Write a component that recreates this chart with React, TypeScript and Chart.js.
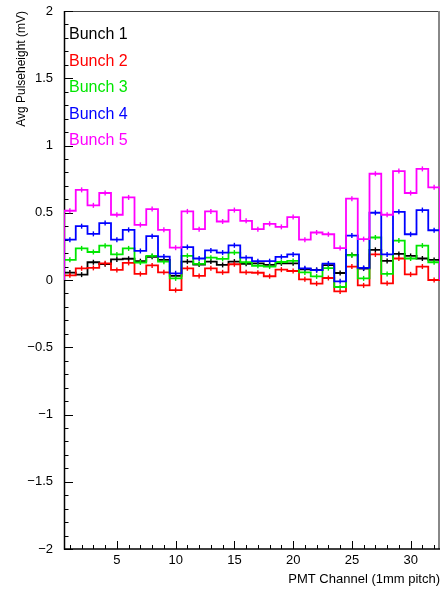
import { useEffect, useRef } from "react";
import { Chart, registerables } from "chart.js";

Chart.register(...registerables);

const channels = [1, 2, 3, 4, 5, 6, 7, 8, 9, 10, 11, 12, 13, 14, 15, 16, 17, 18, 19, 20, 21, 22, 23, 24, 25, 26, 27, 28, 29, 30, 31, 32];

const seriesNames = ["Bunch 1", "Bunch 2", "Bunch 3", "Bunch 4", "Bunch 5"];
const seriesColors = ["#000000", "#ff0000", "#00e600", "#0000ff", "#ff00ff"];

const bunch1 = [0.055, 0.04, 0.132, 0.118, 0.153, 0.158, 0.14, 0.172, 0.15, 0.03, 0.137, 0.115, 0.137, 0.112, 0.137, 0.12, 0.124, 0.112, 0.124, 0.124, 0.08, 0.075, 0.11, 0.052, 0.186, 0.085, 0.224, 0.142, 0.194, 0.179, 0.16, 0.149];
const bunch2 = [0.035, 0.087, 0.09, 0.124, 0.075, 0.127, 0.045, 0.108, 0.057, -0.075, 0.087, 0.03, 0.087, 0.057, 0.117, 0.057, 0.054, 0.028, 0.077, 0.067, 0.005, -0.027, 0.015, -0.085, 0.1, -0.04, 0.19, -0.025, 0.16, 0.042, 0.1, 0.0];
const bunch3 = [0.15, 0.235, 0.208, 0.255, 0.19, 0.235, 0.13, 0.18, 0.136, 0.012, 0.18, 0.12, 0.166, 0.157, 0.204, 0.132, 0.106, 0.1, 0.134, 0.142, 0.056, 0.027, 0.088, -0.052, 0.184, 0.012, 0.316, 0.045, 0.293, 0.16, 0.256, 0.132];
const bunch4 = [0.3, 0.4, 0.343, 0.423, 0.3, 0.373, 0.216, 0.326, 0.174, 0.05, 0.245, 0.16, 0.22, 0.204, 0.258, 0.166, 0.14, 0.14, 0.172, 0.19, 0.087, 0.073, 0.122, -0.01, 0.33, 0.09, 0.5, 0.19, 0.507, 0.34, 0.52, 0.37];
const bunch5 = [0.515, 0.67, 0.555, 0.647, 0.485, 0.614, 0.41, 0.527, 0.373, 0.24, 0.51, 0.378, 0.51, 0.435, 0.52, 0.44, 0.378, 0.418, 0.395, 0.468, 0.3, 0.353, 0.34, 0.237, 0.605, 0.304, 0.79, 0.485, 0.81, 0.647, 0.826, 0.689];

const xTickValues = [5, 10, 15, 20, 25, 30];
const xTickLabels = ["5", "10", "15", "20", "25", "30"];
const yTickValues = [-2, -1.5, -1, -0.5, 0, 0.5, 1, 1.5, 2];
const yTickLabels = ["\u22122", "\u22121.5", "\u22121", "\u22120.5", "0", "0.5", "1", "1.5", "2"];

const FONT = '"Liberation Sans", Arial, Helvetica, sans-serif';

function stepPoints(vals: number[]) {
  const pts: { x: number; y: number }[] = [{ x: channels[0] - 0.5, y: 0 }];
  vals.forEach((v, i) => {
    pts.push({ x: channels[i] - 0.5, y: v });
    pts.push({ x: channels[i] + 0.5, y: v });
  });
  pts.push({ x: channels[channels.length - 1] + 0.5, y: 0 });
  return pts;
}

function centerPoints(vals: number[]) {
  return vals.map((v, i) => ({ x: channels[i], y: v }));
}

const frameTicks = {
  id: "frameTicks",
  beforeDatasetsDraw(chart: any) {
    const { ctx, chartArea: a, scales } = chart;
    const xs = scales.x;
    const ys = scales.y;
    ctx.save();
    ctx.strokeStyle = "#444";
    ctx.lineWidth = 1;
    ctx.beginPath();
    ctx.moveTo(a.left, a.top + 0.5);
    ctx.lineTo(a.right, a.top + 0.5);
    ctx.stroke();
    ctx.strokeStyle = "#888";
    ctx.lineWidth = 2;
    ctx.beginPath();
    ctx.moveTo(a.right - 1, a.top);
    ctx.lineTo(a.right - 1, a.bottom);
    ctx.stroke();
    ctx.strokeStyle = "#000";
    ctx.lineWidth = 1.5;
    ctx.beginPath();
    ctx.moveTo(a.left + 0.5, a.top);
    ctx.lineTo(a.left + 0.5, a.bottom);
    ctx.lineTo(a.right, a.bottom);
    ctx.stroke();
    ctx.lineWidth = 1;
    ctx.beginPath();
    for (let k = -20; k <= 20; k++) {
      const py = Math.round(ys.getPixelForValue(k / 10)) + 0.5;
      const len = k % 5 === 0 ? 9 : 4.5;
      ctx.moveTo(a.left, py);
      ctx.lineTo(a.left + len, py);
    }
    for (let c = channels[0]; c <= channels[channels.length - 1]; c++) {
      const px = Math.round(xs.getPixelForValue(c)) + 0.5;
      const len = c % 5 === 0 ? 8 : 4;
      ctx.moveTo(px, a.bottom);
      ctx.lineTo(px, a.bottom - len);
    }
    ctx.stroke();
    ctx.restore();
  },
};

const textLegend = {
  id: "textLegend",
  afterDatasetsDraw(chart: any) {
    const { ctx, chartArea: a } = chart;
    ctx.save();
    ctx.font = `16px ${FONT}`;
    ctx.textBaseline = "middle";
    ctx.textAlign = "left";
    seriesNames.forEach((name, i) => {
      ctx.fillStyle = seriesColors[i];
      ctx.fillText(name, a.left + 5, a.top + 23.5 + i * 26.6);
    });
    ctx.restore();
  },
};

export default function App() {
  const ref = useRef<HTMLCanvasElement | null>(null);

  useEffect(() => {
    if (!ref.current) return;
    const series = [bunch1, bunch2, bunch3, bunch4, bunch5];
    const datasets: any[] = [];
    for (let s = series.length - 1; s >= 0; s--) {
      datasets.push({
        label: seriesNames[s],
        data: stepPoints(series[s]),
        borderColor: seriesColors[s],
        backgroundColor: seriesColors[s],
        borderWidth: 1.8,
        pointRadius: 0,
        pointHoverRadius: 0,
        tension: 0,
        fill: false,
      });
      datasets.push({
        label: seriesNames[s] + " err",
        data: centerPoints(series[s]),
        showLine: false,
        borderColor: seriesColors[s],
        backgroundColor: seriesColors[s],
        pointStyle: "line",
        rotation: 90,
        pointRadius: 2.5,
        pointHoverRadius: 0,
        pointBorderWidth: 1.4,
        pointBorderColor: seriesColors[s],
      });
    }
    const chart = new Chart(ref.current, {
      type: "line",
      data: { datasets },
      options: {
        animation: false,
        responsive: false,
        events: [],
        layout: { autoPadding: false, padding: { top: 11, right: 1, left: 0, bottom: 0 } },
        plugins: { legend: { display: false }, tooltip: { enabled: false } },
        scales: {
          x: {
            type: "linear",
            min: channels[0] - 0.5,
            max: channels[channels.length - 1] + 0.5,
            grid: { display: false, drawTicks: false },
            border: { display: false },
            afterFit: (s: any) => {
              s.height = 40;
              s.paddingLeft = 0;
              s.paddingRight = 0;
            },
            afterBuildTicks: (s: any) => {
              s.ticks = xTickValues.map((v) => ({ value: v }));
            },
            ticks: {
              autoSkip: false,
              maxRotation: 0,
              padding: 4,
              color: "#000",
              font: { family: FONT, size: 13 },
              callback: (v: any) => xTickLabels[xTickValues.indexOf(Number(v))],
            },
            title: {
              display: true,
              text: "PMT Channel (1mm pitch)",
              align: "end",
              color: "#000",
              font: { family: FONT, size: 13 },
              padding: { top: 0, bottom: 2 },
            },
          },
          y: {
            type: "linear",
            min: -2,
            max: 2,
            grid: { display: false, drawTicks: false },
            border: { display: false },
            afterFit: (s: any) => {
              s.width = 64;
              s.paddingTop = 0;
              s.paddingBottom = 0;
            },
            afterBuildTicks: (s: any) => {
              s.ticks = yTickValues.map((v) => ({ value: v }));
            },
            ticks: {
              autoSkip: false,
              padding: 11,
              color: "#000",
              font: { family: FONT, size: 13 },
              callback: (v: any) => yTickLabels[yTickValues.indexOf(Number(v))],
            },
            title: {
              display: true,
              text: "Avg Pulseheight (mV)",
              align: "end",
              color: "#000",
              font: { family: FONT, size: 12 },
              padding: { top: 14, bottom: 0 },
            },
          },
        },
      },
      plugins: [frameTicks, textLegend],
    } as any);
    return () => chart.destroy();
  }, []);

  return (
    <canvas
      ref={ref}
      width={441}
      height={589}
      style={{ position: "fixed", left: 0, top: 0, background: "#fff" }}
    />
  );
}
